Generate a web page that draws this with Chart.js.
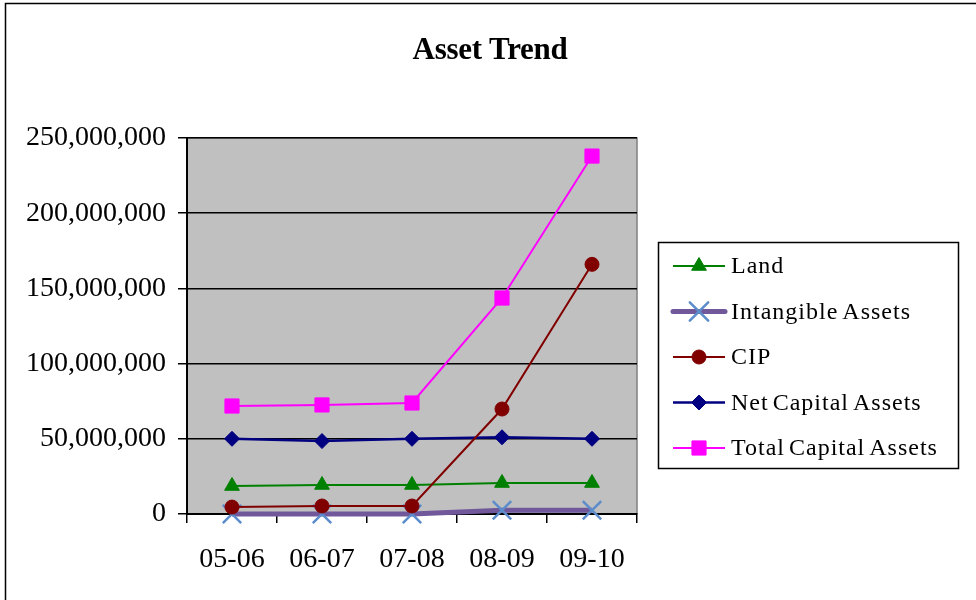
<!DOCTYPE html>
<html>
<head>
<meta charset="utf-8">
<script src="https://cdn.jsdelivr.net/npm/chart.js@4.4.1/dist/chart.umd.min.js"></script>
<style>
html,body{margin:0;padding:0;background:#fff;}
#wrap{width:976px;height:600px;position:relative;}
</style>
</head>
<body>
<div id="wrap"><canvas id="c" width="976" height="600"></canvas></div>
<script>
const categories = ["05-06", "06-07", "07-08", "08-09", "09-10"];
const land = [18600000, 19300000, 19300000, 20600000, 20600000];
const intangible = [0, 0, 0, 2500000, 2500000];
const cip = [4600000, 5300000, 5300000, 69800000, 166000000];
const netCapital = [50000000, 48500000, 50000000, 51000000, 50000000];
const totalCapital = [71800000, 72500000, 73800000, 143600000, 238000000];
const seriesNames = ["Land", "Intangible Assets", "CIP", "Net Capital Assets", "Total Capital Assets"];
const yTicks = [0, 50000000, 100000000, 150000000, 200000000, 250000000];
const chartTitle = "Asset Trend";

const SERIF = "'Liberation Serif', 'Times New Roman', serif";

function drawMarker(ctx, style, x, y, r, fill, stroke, lw) {
  ctx.save();
  ctx.beginPath();
  ctx.fillStyle = fill; ctx.strokeStyle = stroke; ctx.lineWidth = lw;
  if (style === 'triangle') {
    for (let i = 0; i < 3; i++) {
      const a = i * 2 * Math.PI / 3;
      const px = x + Math.sin(a) * r, py = y - Math.cos(a) * r;
      i ? ctx.lineTo(px, py) : ctx.moveTo(px, py);
    }
    ctx.closePath(); ctx.fill(); ctx.stroke();
  } else if (style === 'circle') {
    ctx.arc(x, y, r, 0, Math.PI * 2); ctx.fill(); ctx.stroke();
  } else if (style === 'rect') {
    const s = r * Math.SQRT1_2; ctx.rect(x - s, y - s, 2 * s, 2 * s); ctx.fill(); ctx.stroke();
  } else if (style === 'rectRot') {
    ctx.moveTo(x, y - r); ctx.lineTo(x + r, y); ctx.lineTo(x, y + r); ctx.lineTo(x - r, y); ctx.closePath(); ctx.fill(); ctx.stroke();
  } else if (style === 'crossRot') {
    const o = r * Math.SQRT1_2;
    ctx.moveTo(x - o, y - o); ctx.lineTo(x + o, y + o); ctx.moveTo(x + o, y - o); ctx.lineTo(x - o, y + o); ctx.stroke();
  }
  ctx.restore();
}

const decor = {
  id: 'decor',
  beforeDraw(chart) {
    const { ctx, chartArea: a } = chart;
    ctx.save();
    ctx.fillStyle = '#C0C0C0';
    ctx.fillRect(a.left, a.top, a.right - a.left, a.bottom - a.top);
    ctx.strokeStyle = '#808080'; ctx.lineWidth = 1.5;
    ctx.strokeRect(a.left, a.top, a.right - a.left, a.bottom - a.top);
    ctx.restore();
  },
  afterDraw(chart) {
    const ctx = chart.ctx;
    ctx.save();
    // outer border
    ctx.strokeStyle = '#000'; ctx.lineWidth = 1.5;
    ctx.beginPath(); ctx.moveTo(5.5, 600); ctx.lineTo(5.5, 3.5); ctx.lineTo(976, 3.5); ctx.stroke();
    // title
    ctx.fillStyle = '#000';
    ctx.font = "bold 31px " + SERIF;
    ctx.textAlign = 'center'; ctx.textBaseline = 'middle';
    try { ctx.letterSpacing = '-0.3px'; } catch (e) {}
    ctx.fillText(chartTitle, 490, 51);
    // legend
    const lx = 658, ly = 242, lw = 300, lh = 226;
    ctx.fillStyle = '#fff'; ctx.fillRect(lx, ly, lw, lh);
    ctx.strokeStyle = '#000'; ctx.lineWidth = 1.5; ctx.strokeRect(lx + 0.5, ly + 0.5, lw, lh);
    ctx.font = "24px " + SERIF;
    ctx.textAlign = 'left'; ctx.textBaseline = 'middle';
    try { ctx.letterSpacing = '1px'; ctx.wordSpacing = '-3px'; } catch (e) {}
    chart.data.datasets.forEach((ds, i) => {
      const y = 266 + i * 45.5;
      ctx.strokeStyle = ds.borderColor; ctx.lineWidth = ds.borderWidth;
      ctx.lineCap = ds.borderWidth > 3 ? 'round' : 'butt';
      ctx.beginPath(); ctx.moveTo(673, y); ctx.lineTo(725, y); ctx.stroke();
      drawMarker(ctx, ds.pointStyle, 699, y, ds.pointRadius, ds.pointBackgroundColor, ds.pointBorderColor, ds.pointBorderWidth);
      ctx.fillStyle = '#000';
      ctx.fillText(ds.label, 731, y + 1);
    });
    ctx.restore();
  }
};

const datasets = [
  { label: seriesNames[0], data: land, borderColor: '#008000', borderWidth: 2, pointStyle: 'triangle', pointRadius: 8.5, pointBackgroundColor: '#008000', pointBorderColor: '#008000', pointBorderWidth: 1, order: 4 },
  { label: seriesNames[1], data: intangible, borderColor: '#70589A', borderWidth: 5, pointStyle: 'crossRot', pointRadius: 13, pointBackgroundColor: '#4F81BD', pointBorderColor: '#5B8CCB', pointBorderWidth: 2.5, order: 5 },
  { label: seriesNames[2], data: cip, borderColor: '#800000', borderWidth: 2, pointStyle: 'circle', pointRadius: 7, pointBackgroundColor: '#800000', pointBorderColor: '#800000', pointBorderWidth: 1, order: 2 },
  { label: seriesNames[3], data: netCapital, borderColor: '#000080', borderWidth: 2.5, pointStyle: 'rectRot', pointRadius: 7.5, pointBackgroundColor: '#000080', pointBorderColor: '#000080', pointBorderWidth: 1, order: 3 },
  { label: seriesNames[4], data: totalCapital, borderColor: '#FF00FF', borderWidth: 2, pointStyle: 'rect', pointRadius: 10, pointBackgroundColor: '#FF00FF', pointBorderColor: '#FF00FF', pointBorderWidth: 1, order: 1 }
];
datasets.forEach(d => { d.clip = false; });

new Chart(document.getElementById('c'), {
  type: 'line',
  data: { labels: categories, datasets },
  plugins: [decor],
  options: {
    responsive: false,
    animation: false,
    devicePixelRatio: 1,
    layout: { padding: { top: 138, right: 339, bottom: 0, left: 0 } },
    elements: { line: { tension: 0 } },
    plugins: { legend: { display: false }, title: { display: false }, tooltip: { enabled: false } },
    scales: {
      x: {
        offset: true,
        afterFit(s) { s.height = 86; },
        grid: { display: true, offset: true, drawOnChartArea: false, drawTicks: true, tickLength: 9, color: '#000', lineWidth: 1.5 },
        border: { display: true, color: '#000', width: 2 },
        ticks: { color: '#000', font: { family: SERIF, size: 28 }, padding: 20, maxRotation: 0 }
      },
      y: {
        min: 0, max: 250000000,
        afterFit(s) { s.width = 187; },
        afterBuildTicks(s) { s.ticks = yTicks.map(v => ({ value: v })); },
        grid: { color: '#000', lineWidth: 1.5, tickLength: 9 },
        border: { display: true, color: '#000', width: 2 },
        ticks: {
          color: '#000', font: { family: SERIF, size: 28 }, padding: 12,
          callback: v => Number(v).toLocaleString('en-US')
        }
      }
    }
  }
});
</script>
</body>
</html>
